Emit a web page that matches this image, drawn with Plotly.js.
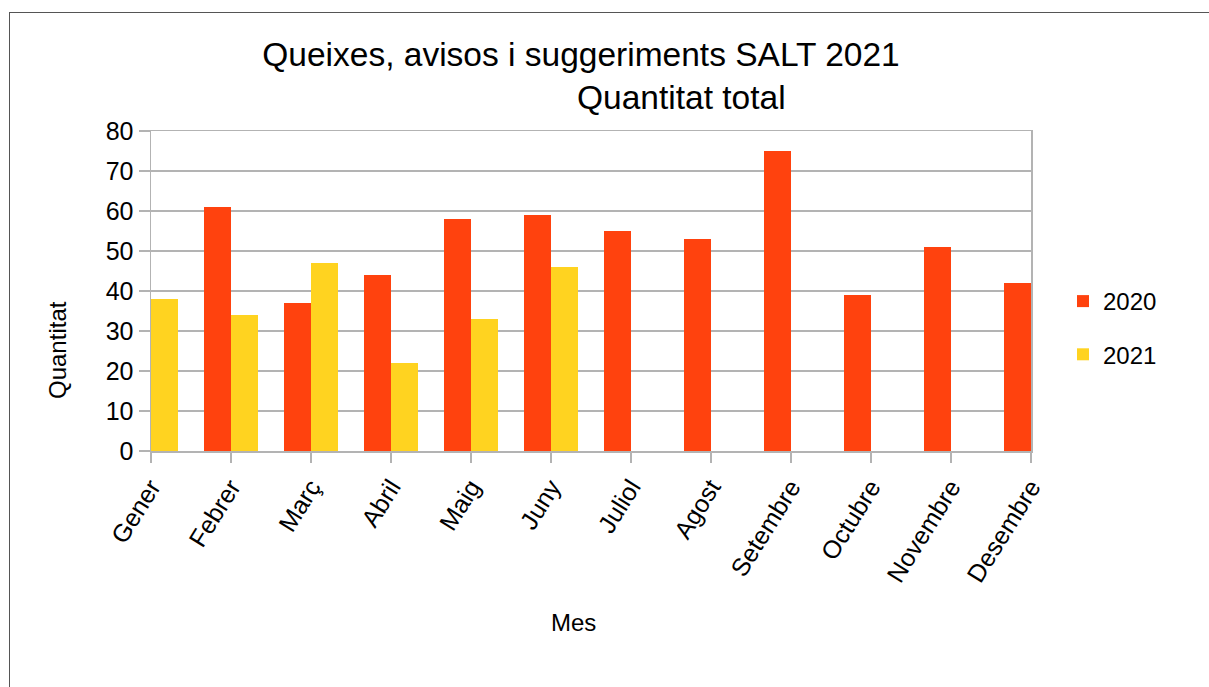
<!DOCTYPE html>
<html>
<head>
<meta charset="utf-8">
<script src="https://cdn.plot.ly/plotly-3.0.1.min.js"></script>
<style>
  html, body { margin: 0; padding: 0; background: #fff; }
  #wrap { position: relative; width: 1209px; height: 687px; overflow: hidden; }
  #chart { position: absolute; left: 0; top: 0; width: 1209px; height: 687px; }
  #frame { position: absolute; left: 9px; top: 12px; width: 1300px; height: 800px;
           border-top: 1.5px solid #555; border-left: 1.5px solid #555; pointer-events: none; }
</style>
</head>
<body>
<div id="wrap">
  <div id="chart"></div>
  <div id="frame"></div>
</div>
<script>
const months = ["Gener","Febrer","Març","Abril","Maig","Juny","Juliol","Agost","Setembre","Octubre","Novembre","Desembre"];
const values2020 = [null, 61, 37, 44, 58, 59, 55, 53, 75, 39, 51, 42];
const values2021 = [38, 34, 47, 22, 33, 46, null, null, null, null, null, null];
const seriesNames = ["2020", "2021"];

const FONT = "Liberation Sans, Arial, sans-serif";
const L = 151, R = 1031, T = 131, B = 451;
const px = x => (x - L) / (R - L);
const py = y => (B - y) / (B - T);

const traces = [
  { type: "bar", name: seriesNames[0], x: months, y: values2020,
    marker: { color: "#ff420e" }, legendgroup: "a" },
  { type: "bar", name: seriesNames[1], x: months, y: values2021,
    marker: { color: "#ffd320" }, legendgroup: "b" }
];

const layout = {
  width: 1209, height: 687,
  margin: { l: L, r: 1209 - R, t: T, b: 687 - B, pad: 0 },
  paper_bgcolor: "#fff", plot_bgcolor: "#fff",
  font: { family: FONT, size: 24, color: "#000" },
  barmode: "group", bargap: 0.325, bargroupgap: 0,
  showlegend: true,
  title: { text: "Queixes, avisos i suggeriments SALT 2021",
           font: { family: FONT, size: 33.5, color: "#000" },
           xref: "container", yref: "container",
           x: 581 / 1209, xanchor: "center", y: 1 - 54 / 687, yanchor: "middle" },
  xaxis: {
    type: "category", range: [0, 11], tickangle: -58,
    ticks: "outside", ticklen: 10, tickcolor: "#b3b3b3", tickwidth: 1.5,
    showline: true, linecolor: "#b3b3b3", linewidth: 1.5, mirror: true,
    showgrid: false, tickfont: { family: FONT, size: 25, color: "#000" },
    fixedrange: true
  },
  yaxis: {
    range: [0, 80], dtick: 10, tick0: 0,
    ticks: "outside", ticklen: 11, tickcolor: "#b3b3b3", tickwidth: 1.5,
    showline: true, linecolor: "#b3b3b3", linewidth: 1.5, mirror: true,
    showgrid: true, gridcolor: "#b3b3b3", gridwidth: 1.5,
    zeroline: false, tickfont: { family: FONT, size: 25, color: "#000" },
    fixedrange: true
  },
  legend: {
    x: px(1063), xanchor: "left", y: py(279), yanchor: "top",
    font: { family: FONT, size: 24, color: "#000" },
    traceorder: "grouped", tracegroupgap: 19,
    bgcolor: "rgba(0,0,0,0)", borderwidth: 0
  },
  annotations: [
    { text: "Quantitat total", xref: "paper", yref: "paper",
      x: px(681), y: py(97), xanchor: "center", yanchor: "middle",
      showarrow: false, font: { family: FONT, size: 33.5, color: "#000" } },
    { text: "Quantitat", xref: "paper", yref: "paper",
      x: px(57), y: py(350), xanchor: "center", yanchor: "middle", textangle: -90,
      showarrow: false, font: { family: FONT, size: 24, color: "#000" } },
    { text: "Mes", xref: "paper", yref: "paper",
      x: px(573), y: py(622), xanchor: "center", yanchor: "middle",
      showarrow: false, font: { family: FONT, size: 24, color: "#000" } }
  ]
};

Plotly.newPlot("chart", traces, layout, { displayModeBar: false, staticPlot: true });
</script>
</body>
</html>
